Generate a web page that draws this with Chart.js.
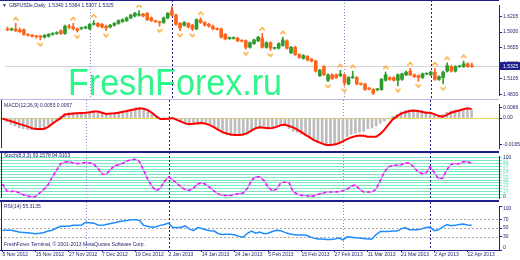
<!DOCTYPE html>
<html>
<head>
<meta charset="utf-8">
<title>GBPUSD Daily</title>
<script src="https://cdn.jsdelivr.net/npm/chart.js@4.4.1/dist/chart.umd.min.js"></script>
<style>
  html, body { margin: 0; padding: 0; background: #ffffff; }
  #board { position: relative; width: 520px; height: 260px; overflow: hidden; background: #ffffff; }
  #board canvas { position: absolute; left: 0; }
</style>
</head>
<body>
<div id="board">
  <canvas id="priceChart" width="520" height="100" style="top:0px"></canvas>
  <canvas id="macdChart" width="520" height="52" style="top:100px"></canvas>
  <canvas id="stochChart" width="520" height="50" style="top:152px"></canvas>
  <canvas id="rsiChart" width="520" height="58" style="top:202px"></canvas>
</div>
<script>
// GBPUSD daily bars, one entry per bar (bar 0 = 5 Nov 2012)
const dateLabels = ['5 Nov 2012', '15 Nov 2012', '27 Nov 2012', '7 Dec 2012', '19 Dec 2012',
  '2 Jan 2013', '14 Jan 2013', '24 Jan 2013', '5 Feb 2013', '15 Feb 2013', '27 Feb 2013',
  '11 Mar 2013', '21 Mar 2013', '2 Apr 2013', '12 Apr 2013']
const dateTickBars = [0, 8, 16, 24, 32, 40, 48, 56, 64, 72, 80, 88, 96, 104, 112]

const opens = [1.5987, 1.5971, 1.5987, 1.5971, 1.5971, 1.5890, 1.5866, 1.5857, 1.5857, 1.5841,
  1.5857, 1.5890, 1.5906, 1.5955, 1.5906, 1.6027, 1.6019, 1.5987, 1.5995, 1.6003,
  1.5987, 1.6068, 1.6084, 1.6068, 1.6035, 1.6019, 1.6052, 1.6084, 1.6116, 1.6133,
  1.6181, 1.6213, 1.6230, 1.6246, 1.6262, 1.6181, 1.6124, 1.6108, 1.6100, 1.6181,
  1.6310, 1.6230, 1.6084, 1.6052, 1.6084, 1.6052, 1.5987, 1.6149, 1.6100, 1.6068,
  1.6035, 1.5987, 1.5987, 1.5890, 1.5820, 1.5820, 1.5825, 1.5781, 1.5777, 1.5663,
  1.5728, 1.5777, 1.5825, 1.5663, 1.5744, 1.5643, 1.5647, 1.5696, 1.5777, 1.5566,
  1.5663, 1.5534, 1.5469, 1.5501, 1.5453, 1.5421, 1.5162, 1.5323, 1.5081, 1.5178,
  1.5178, 1.5162, 1.5178, 1.5016, 1.5125, 1.5129, 1.5020, 1.5016, 1.4940, 1.4919,
  1.4915, 1.4919, 1.5081, 1.5129, 1.5129, 1.5081, 1.5097, 1.5178, 1.5243, 1.5178,
  1.5162, 1.5129, 1.5190, 1.5178, 1.5226, 1.5097, 1.5129, 1.5243, 1.5323, 1.5243,
  1.5320, 1.5323, 1.5372, 1.5340]
const highs = [1.6019, 1.6003, 1.6084, 1.6003, 1.5987, 1.5906, 1.5890, 1.5874, 1.5874, 1.5890,
  1.5906, 1.5922, 1.5938, 1.5971, 1.6052, 1.6068, 1.6084, 1.6003, 1.6019, 1.6035,
  1.6084, 1.6133, 1.6100, 1.6084, 1.6052, 1.6068, 1.6100, 1.6149, 1.6165, 1.6197,
  1.6246, 1.6278, 1.6310, 1.6262, 1.6278, 1.6197, 1.6133, 1.6116, 1.6197, 1.6278,
  1.6380, 1.6246, 1.6100, 1.6116, 1.6100, 1.6068, 1.6165, 1.6181, 1.6116, 1.6084,
  1.6052, 1.6003, 1.6003, 1.5906, 1.5841, 1.5845, 1.5841, 1.5793, 1.5793, 1.5760,
  1.5809, 1.5857, 1.5906, 1.5760, 1.5760, 1.5663, 1.5744, 1.5841, 1.5793, 1.5679,
  1.5679, 1.5550, 1.5534, 1.5518, 1.5469, 1.5437, 1.5275, 1.5340, 1.5194, 1.5194,
  1.5194, 1.5259, 1.5194, 1.5146, 1.5243, 1.5146, 1.5032, 1.5032, 1.4951, 1.4935,
  1.4935, 1.5113, 1.5226, 1.5146, 1.5146, 1.5194, 1.5210, 1.5243, 1.5291, 1.5194,
  1.5178, 1.5210, 1.5210, 1.5243, 1.5291, 1.5162, 1.5243, 1.5388, 1.5340, 1.5340,
  1.5340, 1.5420, 1.5388, 1.5384]
const lows = [1.5955, 1.5955, 1.5938, 1.5922, 1.5874, 1.5857, 1.5841, 1.5825, 1.5793, 1.5825,
  1.5841, 1.5874, 1.5890, 1.5890, 1.5890, 1.5987, 1.5971, 1.5930, 1.5971, 1.5987,
  1.5971, 1.6052, 1.6019, 1.6003, 1.5955, 1.6003, 1.6035, 1.6068, 1.6100, 1.6116,
  1.6165, 1.6197, 1.6213, 1.6197, 1.6133, 1.6116, 1.6100, 1.6035, 1.6084, 1.6165,
  1.6213, 1.6052, 1.5955, 1.6035, 1.6003, 1.5955, 1.5971, 1.6084, 1.6035, 1.6019,
  1.5971, 1.5963, 1.5825, 1.5793, 1.5801, 1.5805, 1.5760, 1.5755, 1.5631, 1.5647,
  1.5712, 1.5760, 1.5647, 1.5647, 1.5607, 1.5631, 1.5631, 1.5679, 1.5631, 1.5550,
  1.5518, 1.5469, 1.5453, 1.5421, 1.5404, 1.5226, 1.5146, 1.5162, 1.5056, 1.5097,
  1.5113, 1.5146, 1.4984, 1.5000, 1.5113, 1.5000, 1.4995, 1.4903, 1.4910, 1.4831,
  1.4895, 1.4903, 1.5065, 1.5081, 1.5065, 1.4984, 1.5081, 1.5162, 1.5162, 1.5129,
  1.5065, 1.5113, 1.5178, 1.5162, 1.5081, 1.5081, 1.5016, 1.5226, 1.5226, 1.5226,
  1.5307, 1.5307, 1.5307, 1.5307]
const closes = [1.5971, 1.5987, 1.5955, 1.5938, 1.5890, 1.5874, 1.5857, 1.5849, 1.5841, 1.5874,
  1.5890, 1.5906, 1.5922, 1.5906, 1.6035, 1.6019, 1.5987, 1.5955, 1.6003, 1.6019,
  1.6068, 1.6076, 1.6035, 1.6019, 1.6003, 1.6052, 1.6084, 1.6133, 1.6149, 1.6181,
  1.6230, 1.6262, 1.6246, 1.6213, 1.6149, 1.6133, 1.6116, 1.6100, 1.6181, 1.6262,
  1.6230, 1.6068, 1.6003, 1.6100, 1.6019, 1.5987, 1.6149, 1.6100, 1.6052, 1.6035,
  1.5987, 1.5979, 1.5841, 1.5809, 1.5825, 1.5828, 1.5777, 1.5772, 1.5663, 1.5744,
  1.5793, 1.5841, 1.5663, 1.5744, 1.5647, 1.5651, 1.5728, 1.5793, 1.5647, 1.5663,
  1.5534, 1.5485, 1.5518, 1.5437, 1.5421, 1.5243, 1.5259, 1.5178, 1.5178, 1.5113,
  1.5129, 1.5194, 1.5032, 1.5129, 1.5132, 1.5016, 1.5012, 1.4919, 1.4930, 1.4854,
  1.4922, 1.5097, 1.5178, 1.5097, 1.5081, 1.5178, 1.5194, 1.5226, 1.5178, 1.5146,
  1.5129, 1.5194, 1.5197, 1.5226, 1.5097, 1.5146, 1.5226, 1.5340, 1.5243, 1.5323,
  1.5327, 1.5372, 1.5323, 1.5325]

// bars carrying a Bill Williams fractal
const fractalUp = [2, 16, 21, 32, 40, 47, 62, 67, 81, 84, 92, 98, 104, 107, 111]
const fractalDown = [8, 17, 24, 37, 42, 45, 58, 64, 78, 82, 89, 95, 100, 106]

const priceTicks = [1.4830, 1.5105, 1.5380, 1.5655, 1.5930, 1.6205]

const macdHist = [-0.0011, -0.0022, -0.0039, -0.0050, -0.0061, -0.0066, -0.0072, -0.0072, -0.0072, -0.0072,
  -0.0063, -0.0044, -0.0028, -0.0011, 0.0011, 0.0025, 0.0033, 0.0033, 0.0033, 0.0033,
  0.0033, 0.0033, 0.0039, 0.0033, 0.0028, 0.0028, 0.0028, 0.0033, 0.0039, 0.0041,
  0.0050, 0.0055, 0.0066, 0.0063, 0.0052, 0.0039, 0.0022, 0.0008, 0.0000, 0.0003,
  0.0006, -0.0003, -0.0011, -0.0022, -0.0028, -0.0036, -0.0041, -0.0039, -0.0030, -0.0028,
  -0.0039, -0.0055, -0.0072, -0.0094, -0.0105, -0.0110, -0.0110, -0.0110, -0.0105, -0.0096,
  -0.0083, -0.0061, -0.0061, -0.0061, -0.0061, -0.0058, -0.0050, -0.0044, -0.0047, -0.0066,
  -0.0083, -0.0088, -0.0099, -0.0110, -0.0121, -0.0138, -0.0154, -0.0160, -0.0165, -0.0165,
  -0.0160, -0.0149, -0.0138, -0.0116, -0.0102, -0.0094, -0.0088, -0.0083, -0.0066, -0.0061,
  -0.0050, -0.0033, -0.0019, -0.0006, 0.0011, 0.0022, 0.0039, 0.0047, 0.0050, 0.0050,
  0.0050, 0.0047, 0.0039, 0.0028, 0.0022, 0.0017, 0.0022, 0.0036, 0.0044, 0.0050,
  0.0052, 0.0055, 0.0055, 0.0050]
const macdSignal = [-0.0003, -0.0011, -0.0019, -0.0028, -0.0036, -0.0044, -0.0052, -0.0063, -0.0068, -0.0068,
  -0.0068, -0.0055, -0.0036, -0.0017, 0.0000, 0.0022, 0.0025, 0.0028, 0.0030, 0.0032,
  0.0033, 0.0036, 0.0041, 0.0041, 0.0033, 0.0025, 0.0028, 0.0030, 0.0033, 0.0039,
  0.0044, 0.0050, 0.0055, 0.0061, 0.0058, 0.0050, 0.0033, 0.0011, -0.0006, -0.0006,
  -0.0004, 0.0000, -0.0011, -0.0022, -0.0033, -0.0039, -0.0036, -0.0032, -0.0031, -0.0036,
  -0.0044, -0.0058, -0.0074, -0.0088, -0.0096, -0.0102, -0.0105, -0.0105, -0.0102, -0.0094,
  -0.0077, -0.0063, -0.0058, -0.0061, -0.0063, -0.0062, -0.0055, -0.0044, -0.0041, -0.0050,
  -0.0058, -0.0072, -0.0088, -0.0105, -0.0121, -0.0138, -0.0149, -0.0160, -0.0168, -0.0168,
  -0.0165, -0.0157, -0.0146, -0.0132, -0.0121, -0.0113, -0.0109, -0.0110, -0.0116, -0.0117,
  -0.0117, -0.0099, -0.0072, -0.0039, -0.0008, 0.0011, 0.0028, 0.0036, 0.0044, 0.0048,
  0.0044, 0.0039, 0.0034, 0.0033, 0.0025, 0.0014, 0.0008, 0.0020, 0.0033, 0.0041,
  0.0047, 0.0055, 0.0061, 0.0057]
const macdTicks = [-0.0165, 0, 0.0066]

const stochMain = [33, 16, 14, 15, 11, 6, 3, 0, 2, 11,
  20, 32, 51, 68, 85, 89, 90, 87, 85, 86,
  88, 87, 84, 73, 59, 58, 70, 80, 82, 86,
  92, 95, 96, 90, 68, 45, 27, 16, 22, 40,
  51, 44, 35, 26, 19, 17, 23, 33, 37, 32,
  24, 15, 8, 4, 4, 4, 7, 9, 10, 22,
  43, 52, 51, 42, 25, 16, 20, 36, 38, 37,
  14, 8, 4, 4, 2, 3, 7, 9, 13, 13,
  13, 14, 16, 20, 28, 31, 20, 13, 13, 13,
  20, 42, 64, 77, 81, 81, 82, 87, 87, 77,
  65, 60, 61, 77, 63, 47, 48, 69, 83, 85,
  85, 90, 90, 86]
const stochLevels = [0, 7, 14, 21, 29, 36, 43, 50, 57, 64, 71, 79, 86, 93, 100]

const rsiValues = [45, 45, 45, 43, 41, 40, 39, 38, 37, 38,
  40, 43, 45, 50, 54, 54, 54, 56, 56, 56,
  63, 62, 61, 57, 56, 58, 60, 62, 64, 66,
  67, 69, 69, 67, 56, 54, 52, 53, 56, 58,
  61, 51, 51, 51, 55, 48, 44, 51, 49, 46,
  44, 43, 37, 35, 36, 36, 34, 31, 29, 38,
  43, 38, 41, 37, 38, 42, 45, 44, 40, 37,
  35, 34, 34, 34, 30, 27, 25, 25, 24, 24,
  25, 27, 23, 30, 29, 28, 27, 26, 25, 25,
  35, 42, 42, 42, 43, 43, 48, 51, 46, 46,
  46, 48, 51, 52, 44, 46, 52, 58, 55, 56,
  58, 59, 57, 56]
const rsiTicks = [0, 30, 50, 70, 100]
const rsiLevels = [30, 50, 70]

// period separators (bar numbers)
const monthLinesLight = [20, 82]
const monthLinesDark = [40, 103]

const NAVY = '#1e1e8c'
const TEXT = '#25256e'
const LAVENDER = '#b8b8e6'
const SEP_LIGHT = '#8c8cc8'
const BULL = '#2f9b2f'
const BEAR = '#ff6418'
const FRACTAL = '#ffa224'
const STRIPE = '#7ae8c2'
const FONT = '"Liberation Sans", Arial, sans-serif'

Chart.defaults.font.family = FONT
Chart.defaults.font.size = 5
Chart.defaults.color = TEXT
Chart.defaults.animation = false
Chart.defaults.events = []
Chart.defaults.plugins.legend.display = false
Chart.defaults.plugins.tooltip.enabled = false

const xMin = -0.6
const xMax = 119.6

function hline (ctx, x1, x2, y) {
  ctx.beginPath()
  ctx.moveTo(x1, y)
  ctx.lineTo(x2, y)
  ctx.stroke()
}

function vline (ctx, x, y1, y2) {
  ctx.beginPath()
  ctx.moveTo(x, y1)
  ctx.lineTo(x, y2)
  ctx.stroke()
}

// frames, separators, captions: everything MT4 draws round the series
const panelDecor = {
  id: 'panelDecor',
  beforeDatasetsDraw (chart, args, opts) {
    const { ctx, chartArea: area, scales } = chart
    ctx.save()
    if (opts.watermark) {
      const w = opts.watermark
      ctx.save()
      ctx.font = w.font
      ctx.fillStyle = w.color
      ctx.textBaseline = 'alphabetic'
      const natural = ctx.measureText(w.text).width
      ctx.translate(w.x, w.y)
      ctx.scale(w.width / natural, 1)
      ctx.fillText(w.text, 0, 0)
      ctx.restore()
    }
    ctx.lineWidth = 1;
    (opts.levels || []).forEach(lv => {
      const y = Math.round(scales.y.getPixelForValue(lv.value)) + 0.5
      ctx.strokeStyle = lv.color
      ctx.setLineDash(lv.dash || [])
      hline(ctx, area.left, area.right, y)
    })
    if (opts.bid !== undefined) {
      const y = Math.round(scales.y.getPixelForValue(opts.bid)) + 0.5
      ctx.strokeStyle = '#d4d4d4'
      ctx.setLineDash([])
      hline(ctx, area.left, area.right, y)
    }
    const sepBottom = opts.sepToArea ? area.bottom : chart.height
    const seps = [[monthLinesLight, SEP_LIGHT, [1, 2]], [monthLinesDark, NAVY, [2, 2]]]
    seps.forEach(([list, color, dash]) => {
      ctx.strokeStyle = color
      ctx.setLineDash(dash)
      list.forEach(b => {
        vline(ctx, Math.round(scales.x.getPixelForValue(b)) + 0.5, 0, sepBottom)
      })
    })
    ctx.restore()
  },
  afterDraw (chart, args, opts) {
    const { ctx, chartArea: area, scales } = chart
    ctx.save()
    ctx.setLineDash([]);
    (opts.edges || []).forEach(e => {
      ctx.strokeStyle = e.color
      ctx.lineWidth = e.width || 1
      hline(ctx, 0, area.right, e.y)
    })
    if (opts.leftEdge) {
      ctx.strokeStyle = NAVY
      ctx.lineWidth = 1
      vline(ctx, 1.5, 0, area.bottom)
    }
    ctx.font = '5px ' + FONT
    ctx.textBaseline = 'middle'
    ctx.fillStyle = TEXT;
    (opts.captions || []).forEach(c => {
      ctx.fillText(c.text, c.x, c.y)
    })
    if (opts.bid !== undefined) {
      const y = Math.round(scales.y.getPixelForValue(opts.bid))
      ctx.fillStyle = NAVY
      ctx.fillRect(area.right + 1, y - 4, chart.width - area.right - 1, 8)
      ctx.fillStyle = '#ffffff'
      ctx.fillText(opts.bid.toFixed(4), area.right + 4, y + 0.5)
    }
    if (opts.cornerLabels) {
      ctx.fillStyle = TEXT
      ctx.fillText(opts.cornerLabels[0], area.right + 4, area.top + 3)
      ctx.fillText(opts.cornerLabels[1], area.right + 4, area.bottom - 2)
    }
    ctx.restore()
  }
}

function hiddenX () {
  return { type: 'linear', min: xMin, max: xMax, offset: false, display: false }
}

function rightAxis (min, max, tickValues, format) {
  return {
    type: 'linear',
    position: 'right',
    min: min,
    max: max,
    beginAtZero: false,
    afterFit: s => { s.width = 21 },
    afterBuildTicks: s => { s.ticks = tickValues.map(v => ({ value: v })) },
    grid: { drawOnChartArea: false, tickLength: 3, tickColor: NAVY },
    border: { color: NAVY },
    ticks: { padding: 1, autoSkip: false, color: TEXT, callback: format }
  }
}

// small MT4 style fractal arrow, drawn clear of the bar
function makeFractalMark (up) {
  const c = document.createElement('canvas')
  c.width = 6
  c.height = 15
  const g = c.getContext('2d')
  g.strokeStyle = FRACTAL
  g.lineWidth = 1.2
  g.beginPath()
  if (up) {
    g.moveTo(0.5, 4.5); g.lineTo(3, 1.5); g.lineTo(5.5, 4.5)
  } else {
    g.moveTo(0.5, 10.5); g.lineTo(3, 13.5); g.lineTo(5.5, 10.5)
  }
  g.stroke()
  return c
}

const barIdx = closes.map((c, i) => i)
const candleColors = closes.map((c, i) => c >= opens[i] ? BULL : BEAR)
const last = closes.length - 1

// price window
new Chart(document.getElementById('priceChart'), {
  type: 'bar',
  data: {
    datasets: [
      {
        label: 'body',
        data: barIdx.map(i => ({ x: i, y: [opens[i], closes[i]] })),
        backgroundColor: candleColors,
        barThickness: 3,
        minBarLength: 1,
        grouped: false
      },
      {
        label: 'wick',
        data: barIdx.map(i => ({ x: i, y: [lows[i], highs[i]] })),
        backgroundColor: candleColors,
        barThickness: 1,
        grouped: false
      },
      {
        type: 'line',
        label: 'fractal up',
        data: fractalUp.map(i => ({ x: i, y: highs[i] })),
        showLine: false,
        pointStyle: makeFractalMark(true),
        pointRadius: 3
      },
      {
        type: 'line',
        label: 'fractal down',
        data: fractalDown.map(i => ({ x: i, y: lows[i] })),
        showLine: false,
        pointStyle: makeFractalMark(false),
        pointRadius: 3
      }
    ]
  },
  options: {
    responsive: false,
    layout: { padding: { top: 1, bottom: 1, left: 0, right: 0 } },
    scales: {
      x: hiddenX(),
      y: rightAxis(1.4822, 1.6408, priceTicks, v => v.toFixed(4))
    },
    plugins: {
      panelDecor: {
        watermark: { text: 'FreshForex.ru', font: '37px ' + FONT, color: '#2ef78a', x: 68, y: 95, width: 214 },
        bid: closes[last],
        edges: [{ y: 0.5, color: NAVY }, { y: 99.5, color: LAVENDER }],
        captions: [
          { text: '\u25BC', x: 2, y: 6 },
          { text: 'GBPUSDe,Daily  ' + [opens[last], highs[last], lows[last], closes[last]].map(v => v.toFixed(4)).join(' '), x: 9, y: 6 }
        ]
      }
    }
  },
  plugins: [panelDecor]
})

// MACD window
new Chart(document.getElementById('macdChart'), {
  type: 'bar',
  data: {
    datasets: [
      {
        type: 'line',
        label: 'signal',
        data: macdSignal.map((v, i) => ({ x: i, y: v })),
        borderColor: '#ff0000',
        borderWidth: 2,
        pointRadius: 0,
        tension: 0
      },
      {
        label: 'macd',
        data: macdHist.map((v, i) => ({ x: i, y: v })),
        backgroundColor: '#bdbdbd',
        barThickness: 2,
        grouped: false
      }
    ]
  },
  options: {
    responsive: false,
    layout: { padding: { top: 1, bottom: 1, left: 0, right: 0 } },
    scales: {
      x: hiddenX(),
      y: rightAxis(-0.0187, 0.0088, macdTicks, v => v === 0 ? '0.00' : v.toFixed(4))
    },
    plugins: {
      panelDecor: {
        levels: [{ value: 0, color: '#e6d65a' }],
        edges: [{ y: 51.5, color: NAVY }],
        leftEdge: true,
        captions: [{ text: 'MACD(12,26,9) 0.0055 0.0057', x: 4, y: 6 }]
      }
    }
  },
  plugins: [panelDecor]
})

// Stochastic window
const stochAxis = rightAxis(-2.3, 104.5, stochLevels, v => String(v))
stochAxis.grid = { drawOnChartArea: true, color: STRIPE, tickColor: STRIPE, tickLength: 3 }
stochAxis.ticks.color = c => (c.tick && (c.tick.value === 0 || c.tick.value === 100)) ? TEXT : '#8fe6cc'

new Chart(document.getElementById('stochChart'), {
  type: 'line',
  data: {
    datasets: [
      {
        label: 'stoch dash',
        data: stochMain.map((v, i) => ({ x: i, y: v })),
        borderColor: '#ff00ff',
        borderWidth: 1.5,
        borderDash: [3, 3],
        pointRadius: 0
      },
      {
        label: 'stoch',
        data: stochMain.map((v, i) => ({ x: i, y: v })),
        borderColor: '#d88af0',
        borderWidth: 1.2,
        pointRadius: 0
      }
    ]
  },
  options: {
    responsive: false,
    layout: { padding: { top: 1, bottom: 2, left: 0, right: 0 } },
    scales: { x: hiddenX(), y: stochAxis },
    plugins: {
      panelDecor: {
        edges: [{ y: 0.5, color: NAVY }, { y: 49, color: NAVY, width: 2 }],
        leftEdge: true,
        captions: [{ text: 'Stoch(8,3,3) 93.1578 94.9103', x: 4, y: 4 }]
      }
    }
  },
  plugins: [panelDecor]
})

// RSI window with the date axis
new Chart(document.getElementById('rsiChart'), {
  type: 'line',
  data: {
    datasets: [{
      label: 'rsi',
      data: rsiValues.map((v, i) => ({ x: i, y: v })),
      borderColor: '#1e8cff',
      borderWidth: 1.5,
      pointRadius: 0
    }]
  },
  options: {
    responsive: false,
    layout: { padding: { top: 0, bottom: 0, left: 0, right: 0 } },
    scales: {
      x: {
        type: 'linear',
        min: xMin,
        max: xMax,
        offset: false,
        position: 'bottom',
        afterFit: s => { s.height = 10 },
        afterBuildTicks: s => { s.ticks = dateTickBars.map(v => ({ value: v })) },
        grid: { drawOnChartArea: false, tickLength: 2, tickColor: NAVY },
        border: { color: NAVY },
        ticks: {
          callback: (v, i) => dateLabels[i],
          autoSkip: false,
          maxRotation: 0,
          minRotation: 0,
          align: 'start',
          padding: 0,
          color: TEXT
        }
      },
      y: rightAxis(0, 100, rsiTicks, v => (v === 0 || v === 100) ? '' : String(v))
    },
    plugins: {
      panelDecor: {
        levels: rsiLevels.map(v => ({ value: v, color: '#a8a8a8', dash: [2, 2] })),
        sepToArea: true,
        leftEdge: true,
        cornerLabels: ['100', '0'],
        captions: [
          { text: 'RSI(14) 55.3135', x: 4, y: 5 },
          { text: 'FreshForex Terminal, \u00A9 2001-2013 MetaQuotes Software Corp.', x: 4, y: 43 }
        ]
      }
    }
  },
  plugins: [panelDecor]
})
</script>
</body>
</html>
